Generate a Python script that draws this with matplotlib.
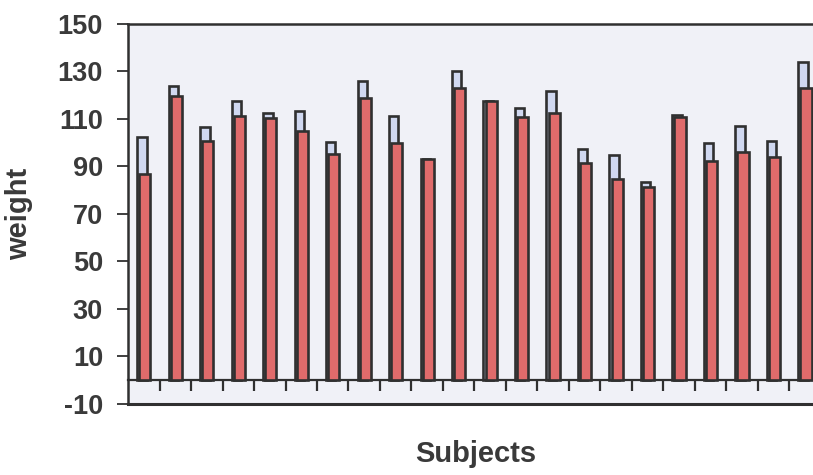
import matplotlib.pyplot as plt
import numpy as np

plt.rcParams['font.family'] = ['Liberation Sans', 'DejaVu Sans']
plt.rcParams['font.weight'] = 'bold'

# weights per subject (blue = before, red = after)
subjects = list(range(1, 23))
before = [102.6, 123.9, 106.5, 117.6, 112.7, 113.5, 100.3, 126.1, 111.4, 93.3, 130.1,
          117.7, 114.6, 121.9, 97.5, 95.0, 83.6, 111.5, 99.8, 107.1, 100.9, 134.0]
after = [86.8, 119.7, 100.9, 111.3, 110.3, 105.0, 95.3, 118.7, 100.0, 93.3, 122.9,
         117.5, 111.0, 112.4, 91.6, 84.9, 81.2, 111.0, 92.5, 96.2, 93.9, 123.1]
yticks = [-10, 10, 30, 50, 70, 90, 110, 130, 150]

text_col = '#3a3a3a'
edge_col = '#303030'

fig = plt.figure(figsize=(8.13, 4.75), dpi=100)
ax = fig.add_axes([0.1575, 0.1495, 0.8425, 0.8000])
ax.set_facecolor('#f0f1f7')

x = np.arange(len(subjects))
ax.bar(x - 0.063, before, width=0.30, color='#d0d8f0', edgecolor=edge_col, linewidth=1.9, zorder=2)
ax.bar(x + 0.032, after, width=0.36, color='#e06b6b', edgecolor=edge_col, linewidth=1.9, zorder=3)

ax.set_xlim(-0.5, 21.25)
ax.set_ylim(-10, 150)

# category axis sits on zero, frame line at -10
ax.spines['bottom'].set_position(('data', 0))
ax.spines['bottom'].set_color(edge_col)
ax.spines['bottom'].set_linewidth(1.6)
ax.axhline(-10, color=edge_col, linewidth=2.2, clip_on=False, zorder=4)
ax.spines['right'].set_visible(False)
for s in ['left', 'top']:
    ax.spines[s].set_color(edge_col)
    ax.spines[s].set_linewidth(1.8)

ax.set_xticks(x[:-1] + 0.5)
ax.set_xticklabels([])
ax.tick_params(axis='x', direction='out', length=8, width=1.6, color=edge_col)

ax.set_yticks(yticks)
ax.set_yticklabels([str(v) for v in yticks])
ax.tick_params(axis='y', direction='out', length=8, width=1.3, color=edge_col,
               pad=10, labelsize=19.5, labelcolor=text_col)

ax.set_ylabel('weight', fontsize=21, fontweight='bold', color=text_col)
ax.yaxis.set_label_coords(-0.139, 0.5)
ax.set_xlabel('Subjects', fontsize=21, fontweight='bold', color=text_col)
ax.xaxis.set_label_coords(0.507, -0.095)

fig.savefig('out.png', dpi=100)
